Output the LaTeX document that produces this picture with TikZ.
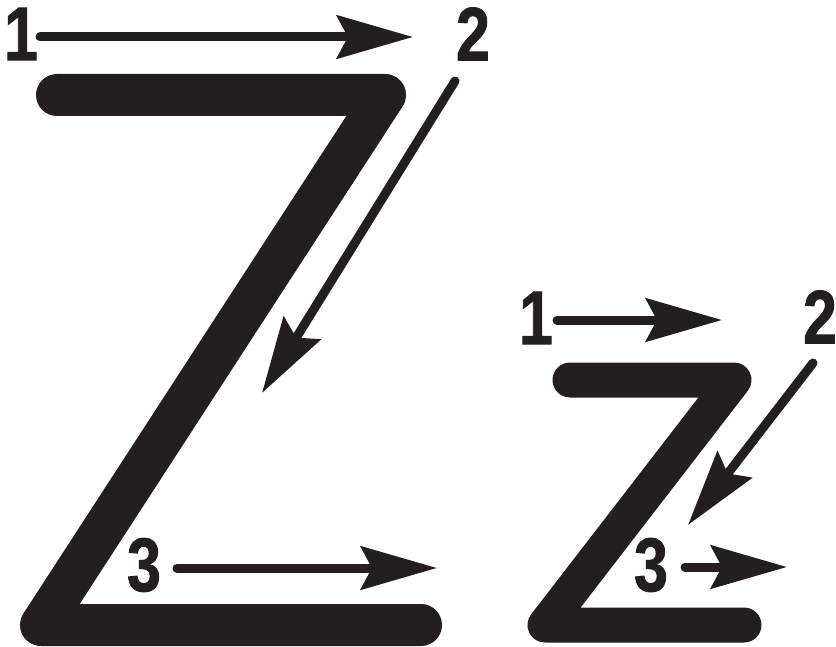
\documentclass[tikz,border=0pt]{standalone}
\usepackage{fontspec}
\setmainfont{Liberation Sans}
\newfontfamily\digitfont[FakeStretch=0.8,FakeBold=1.2]{Liberation Sans Bold}
\usetikzlibrary{arrows.meta}
\definecolor{ink}{RGB}{35,31,32}
\tikzset{
    letterline/.style={draw=ink, line cap=round, line join=round},
    strokearrow/.style={draw=ink, line width=4.5pt, line cap=round,
        -{Stealth[length=38pt, width=21.5pt, inset=5.5pt]}},
    stepnum/.style={font=\digitfont\fontsize{38}{38}\selectfont, text=ink, inner sep=0pt}
}
\begin{document}
\begin{tikzpicture}[x=0.5pt, y=-0.5pt]
    \useasboundingbox (0,0) rectangle (836,647);

    % Capital Z
    \draw[letterline, line width=21pt] (57,95) -- (385,95) -- (41,625) -- (421,625);

    \node[stepnum] (one) at (21,34) {1};
    \node[stepnum] (two) at (473,34) {2};
    \node[stepnum] (three) at (144,565) {3};
    \coordinate (oneS) at (40,37);    \coordinate (oneE) at (413,37);
    \coordinate (twoS) at (455,81);   \coordinate (twoE) at (262,393);
    \coordinate (threeS) at (177,568); \coordinate (threeE) at (437,568);
    \draw[strokearrow] (oneS) -- (oneE);
    \draw[strokearrow] (twoS) -- (twoE);
    \draw[strokearrow] (threeS) -- (threeE);

    % Small z
    \draw[letterline, line width=17.5pt] (570,380) -- (734,380) -- (545,625) -- (744,625);

    \node[stepnum] (sone) at (536,318) {1};
    \node[stepnum] (stwo) at (820,317) {2};
    \node[stepnum] (sthree) at (651,565) {3};
    \coordinate (soneS) at (557,320);   \coordinate (soneE) at (722,320);
    \coordinate (stwoS) at (813,363);   \coordinate (stwoE) at (688,525);
    \coordinate (sthreeS) at (685,567); \coordinate (sthreeE) at (787,567);
    \draw[strokearrow] (soneS) -- (soneE);
    \draw[strokearrow] (stwoS) -- (stwoE);
    \draw[strokearrow] (sthreeS) -- (sthreeE);
\end{tikzpicture}
\end{document}
